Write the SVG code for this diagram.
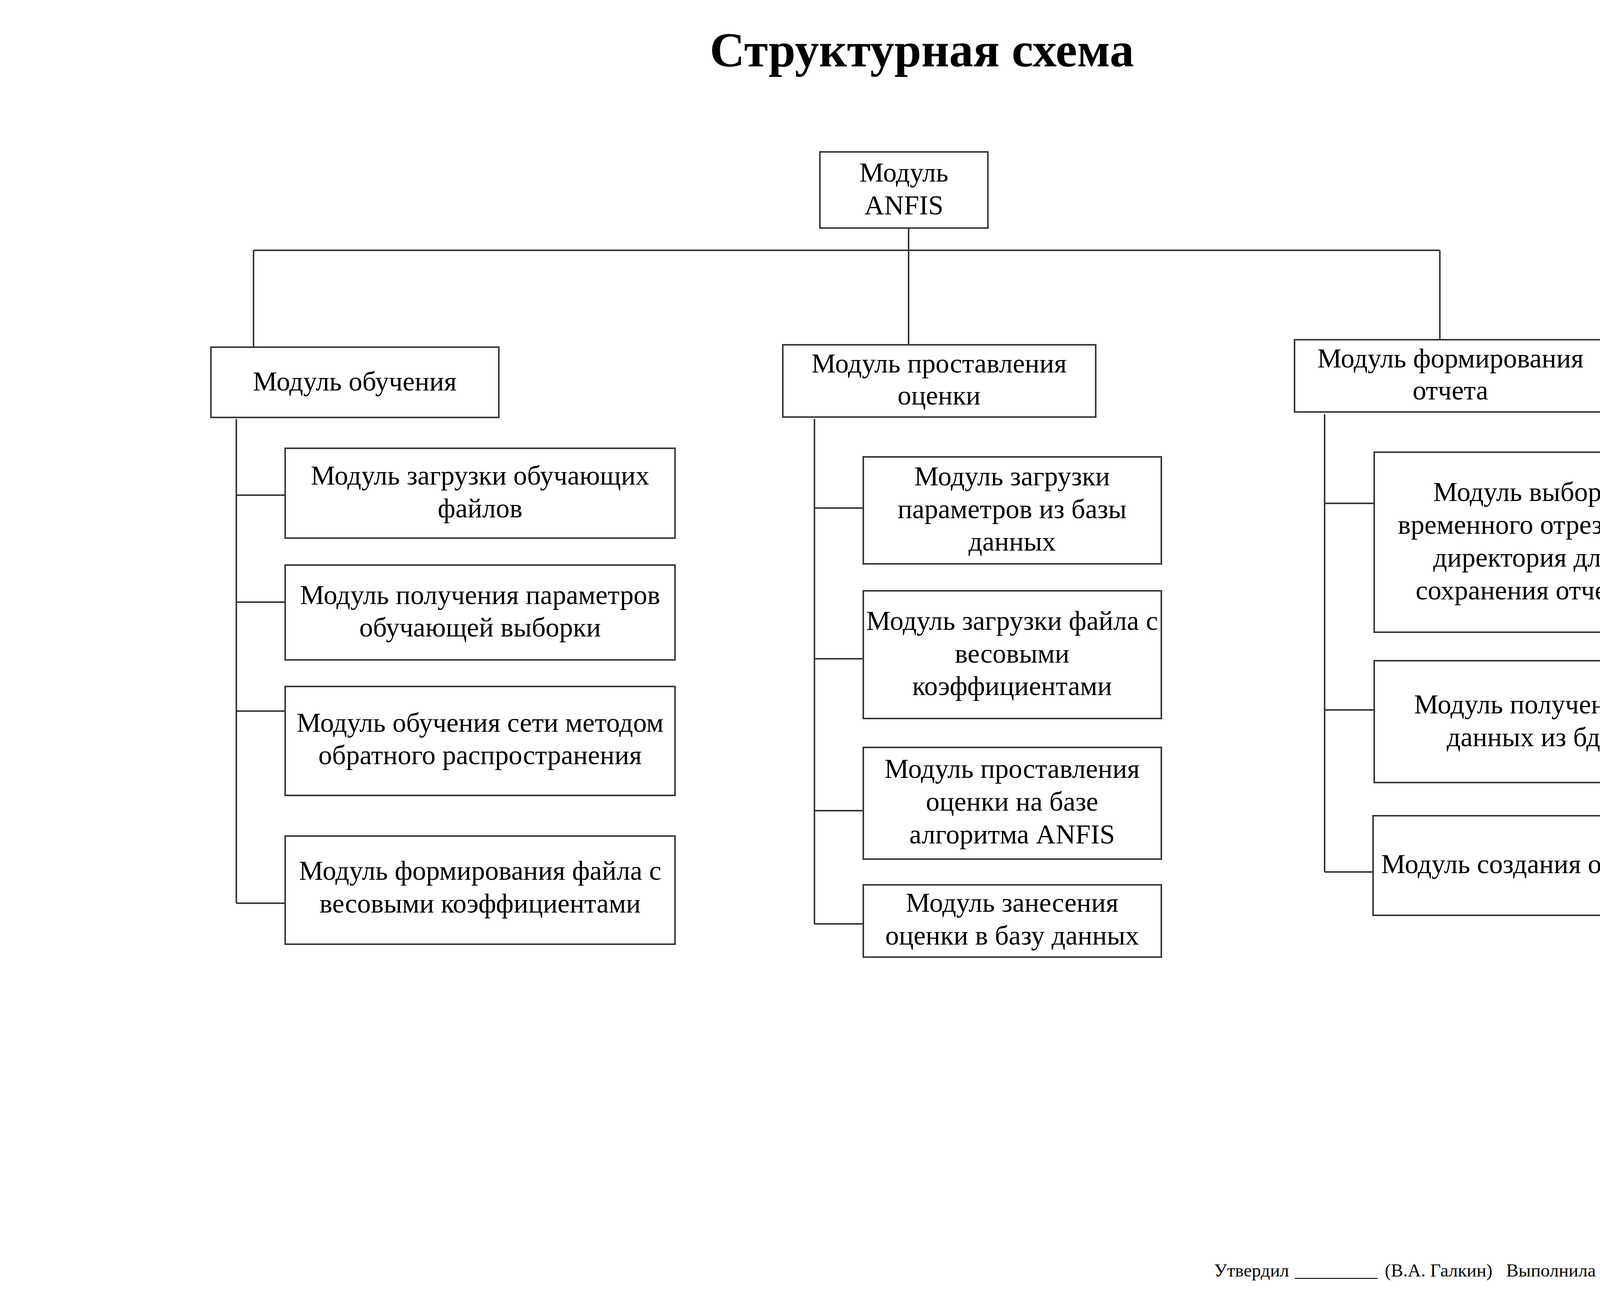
<svg xmlns="http://www.w3.org/2000/svg" width="4763" height="3365" viewBox="0 0 4763 3365">
<style>
.box{fill:#fff;stroke:#383838;stroke-width:4}
.ln{fill:none;stroke:#383838;stroke-width:4}
.t{font-family:"Liberation Serif","Times New Roman",serif;font-size:70px;fill:#000;text-anchor:middle}
.title{font-family:"Liberation Serif","Times New Roman",serif;font-size:124px;font-weight:bold;fill:#000;text-anchor:middle}
.f{font-family:"Liberation Serif","Times New Roman",serif;font-size:47px;fill:#000}
</style>
<rect width="4763" height="3365" fill="#fff"/>
<text class="title" x="2360" y="170">Структурная схема</text>
<g id="connectors">
<path class="ln" d="M2326 584 V883"/>
<path class="ln" d="M649 641 H3686"/>
<path class="ln" d="M649 641 V889"/>
<path class="ln" d="M3686 641 V882"/>
<path class="ln" d="M605 1073 V2313"/>
<path class="ln" d="M605 1268 H730 M605 1542 H730 M605 1821 H730 M605 2313 H730"/>
<path class="ln" d="M2085 1073 V2366"/>
<path class="ln" d="M2085 1301 H2210 M2085 1687 H2210 M2085 2076 H2210 M2085 2366 H2210"/>
<path class="ln" d="M3391 1061 V2233"/>
<path class="ln" d="M3391 1289 H3518 M3391 1818 H3518 M3391 2233 H3515"/>
</g>
<g id="root">
<rect class="box" x="2099" y="389" width="430" height="195"/>
<text class="t" x="2314" y="465">Модуль</text>
<text class="t" x="2314" y="549">ANFIS</text>
</g>
<g id="train">
<rect class="box" x="540" y="889" width="737" height="180"/>
<text class="t" x="908" y="1000">Модуль обучения</text>
</g>
<g id="grade">
<rect class="box" x="2004" y="883" width="801" height="185"/>
<text class="t" x="2404" y="954">Модуль проставления</text>
<text class="t" x="2404" y="1036">оценки</text>
</g>
<g id="report">
<rect class="box" x="3314" y="870" width="799" height="185"/>
<text class="t" x="3713" y="941">Модуль формирования</text>
<text class="t" x="3713" y="1023">отчета</text>
</g>
<g id="a1">
<rect class="box" x="730" y="1148" width="998" height="230"/>
<text class="t" x="1229" y="1241">Модуль загрузки обучающих</text>
<text class="t" x="1229" y="1325">файлов</text>
</g>
<g id="a2">
<rect class="box" x="730" y="1447" width="998" height="243"/>
<text class="t" x="1229" y="1547">Модуль получения параметров</text>
<text class="t" x="1229" y="1630">обучающей выборки</text>
</g>
<g id="a3">
<rect class="box" x="730" y="1758" width="998" height="279"/>
<text class="t" x="1229" y="1874">Модуль обучения сети методом</text>
<text class="t" x="1229" y="1957">обратного распространения</text>
</g>
<g id="a4">
<rect class="box" x="730" y="2141" width="998" height="277"/>
<text class="t" x="1229" y="2253">Модуль формирования файла с</text>
<text class="t" x="1229" y="2337">весовыми коэффициентами</text>
</g>
<g id="b1">
<rect class="box" x="2210" y="1170" width="763" height="274"/>
<text class="t" x="2591" y="1243">Модуль загрузки</text>
<text class="t" x="2591" y="1327">параметров из базы</text>
<text class="t" x="2591" y="1410">данных</text>
</g>
<g id="b2">
<rect class="box" x="2210" y="1513" width="763" height="327"/>
<text class="t" x="2591" y="1613">Модуль загрузки файла с</text>
<text class="t" x="2591" y="1697">весовыми</text>
<text class="t" x="2591" y="1780">коэффициентами</text>
</g>
<g id="b3">
<rect class="box" x="2210" y="1914" width="763" height="286"/>
<text class="t" x="2591" y="1992">Модуль проставления</text>
<text class="t" x="2591" y="2076">оценки на базе</text>
<text class="t" x="2591" y="2160">алгоритма ANFIS</text>
</g>
<g id="b4">
<rect class="box" x="2210" y="2266" width="763" height="185"/>
<text class="t" x="2591" y="2335">Модуль занесения</text>
<text class="t" x="2591" y="2419">оценки в базу данных</text>
</g>
<g id="c1">
<rect class="box" x="3518" y="1158" width="764" height="461"/>
<text class="t" x="3900" y="1283">Модуль выбора</text>
<text class="t" x="3900" y="1367">временного отрезка и</text>
<text class="t" x="3900" y="1451">директория для</text>
<text class="t" x="3900" y="1535">сохранения отчета</text>
</g>
<g id="c2">
<rect class="box" x="3518" y="1692" width="765" height="312"/>
<text class="t" x="3900" y="1827">Модуль получения</text>
<text class="t" x="3900" y="1911">данных из бд</text>
</g>
<g id="c3">
<rect class="box" x="3515" y="2089" width="765" height="255"/>
<text class="t" x="3897" y="2236">Модуль создания отчета</text>
</g>
<text class="f" y="3269"><tspan x="3108">Утвердил</tspan><tspan x="3315">_________</tspan><tspan x="3545">(В.А. Галкин)</tspan><tspan x="3856">Выполнила</tspan><tspan x="4105">_________</tspan><tspan x="4332">(У.В. Журавлева)</tspan></text>
</svg>
